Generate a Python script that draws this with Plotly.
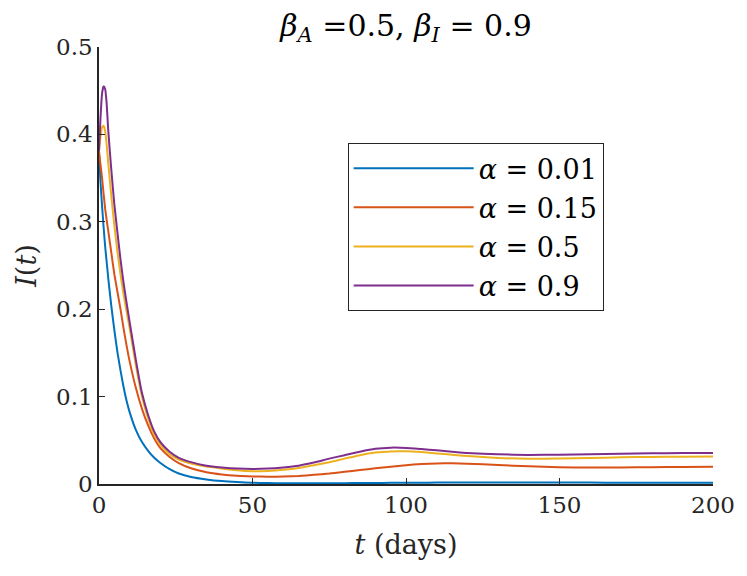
import plotly.graph_objects as go

# days
t = [0, 0.5, 1, 1.5, 2, 2.5, 3, 4, 5, 6, 7, 8, 9, 10, 12, 14, 16, 18, 20, 23, 26, 30,
     35, 40, 45, 50, 55, 60, 65, 70, 75, 80, 85, 90, 95, 100, 105, 110, 115, 120,
     130, 140, 150, 160, 170, 180, 190, 200]

# I(t) for each alpha
i_001 = [0.378, 0.345, 0.318, 0.294, 0.272, 0.254, 0.236, 0.204, 0.176, 0.151, 0.130, 0.111,
         0.095, 0.082, 0.062, 0.048, 0.038, 0.030, 0.024, 0.017, 0.012, 0.008,
         0.0052, 0.0033, 0.0022, 0.0015, 0.0011, 0.0009, 0.0008, 0.0008, 0.0009, 0.0010,
         0.0011, 0.0012, 0.0013, 0.0014, 0.0015, 0.0016, 0.0017, 0.0018,
         0.0018, 0.0018, 0.0017, 0.0016, 0.0015, 0.0015, 0.0014, 0.0014]
i_015 = [0.381, 0.365, 0.350, 0.332, 0.315, 0.302, 0.290, 0.265, 0.240, 0.220, 0.200, 0.178,
         0.158, 0.140, 0.110, 0.086, 0.067, 0.052, 0.041, 0.031, 0.024, 0.018,
         0.0135, 0.011, 0.0095, 0.0087, 0.0083, 0.0085, 0.0092, 0.0105, 0.012, 0.014,
         0.016, 0.018, 0.0198, 0.0215, 0.0228, 0.0235, 0.0237, 0.0233,
         0.0218, 0.0202, 0.0192, 0.0188, 0.0189, 0.0192, 0.0195, 0.0197]
i_05 = [0.381, 0.398, 0.408, 0.410, 0.404, 0.388, 0.368, 0.330, 0.296, 0.266, 0.240, 0.217,
        0.197, 0.178, 0.136, 0.100, 0.075, 0.056, 0.045, 0.034, 0.028, 0.0235,
        0.020, 0.0178, 0.0158, 0.0147, 0.0150, 0.0162, 0.0182, 0.0215, 0.025, 0.029,
        0.033, 0.036, 0.0373, 0.0374, 0.0365, 0.035, 0.0335, 0.032,
        0.0298, 0.0288, 0.0292, 0.0298, 0.0305, 0.031, 0.0313, 0.0315]
i_09 = [0.381, 0.420, 0.447, 0.455, 0.452, 0.435, 0.405, 0.360, 0.320, 0.288, 0.257, 0.230,
        0.207, 0.185, 0.142, 0.104, 0.079, 0.060, 0.048, 0.037, 0.030, 0.025,
        0.021, 0.019, 0.0176, 0.0171, 0.0176, 0.019, 0.021, 0.0245, 0.029, 0.033,
        0.037, 0.0403, 0.0416, 0.0413, 0.040, 0.0385, 0.037, 0.0355,
        0.034, 0.0333, 0.0335, 0.034, 0.0347, 0.0352, 0.0354, 0.0355]

names = ["<i>α</i> = 0.01", "<i>α</i> = 0.15", "<i>α</i> = 0.5", "<i>α</i> = 0.9"]
colors = ["#0072BD", "#D95319", "#EDB120", "#7E2F8E"]

serif = "DejaVu Serif"

fig = go.Figure()
for k, (y, name, c) in enumerate(zip([i_001, i_015, i_05, i_09], names, colors)):
    fig.add_trace(go.Scatter(x=t, y=y, mode="lines", name=name, legendgroup=str(k),
                             line=dict(color=c, width=2, shape="spline", smoothing=0.5)))

fig.update_layout(
    width=747, height=576,
    paper_bgcolor="white", plot_bgcolor="white",
    margin=dict(l=91, r=42, t=39, b=100),
    font=dict(family=serif, size=23, color="#262626"),
    title=dict(text="<i>β</i><sub><i>A</i></sub> =0.5, <i>β</i><sub><i>I</i></sub> = 0.9",
               x=0.5, xref="paper", xanchor="center", y=0.97, yanchor="middle",
               font=dict(family=serif, size=30, color="black")),
    legend=dict(x=0.405, y=0.78, xanchor="left", yanchor="top",
                bgcolor="white", bordercolor="#262626", borderwidth=1,
                font=dict(family=serif, size=27, color="black"),
                itemwidth=120, tracegroupgap=1),
)
fig.update_xaxes(range=[0, 200], tickvals=[0, 50, 100, 150, 200],
                 showline=True, linecolor="#262626", linewidth=1.5,
                 ticks="inside", ticklen=6, tickcolor="#262626", showgrid=False, zeroline=False,
                 title=dict(text="<i>t</i> (days)", standoff=18, font=dict(size=27)))
fig.update_yaxes(range=[0, 0.5], tickvals=[0, 0.1, 0.2, 0.3, 0.4, 0.5],
                 ticktext=["0", "0.1", "0.2", "0.3", "0.4", "0.5"],
                 showline=True, linecolor="#262626", linewidth=1.5,
                 ticks="inside", ticklen=6, tickcolor="#262626", showgrid=False, zeroline=False,
                 title=dict(text="<i>I</i>(<i>t</i>)", standoff=12, font=dict(size=27)))

fig.write_html("out.html")
